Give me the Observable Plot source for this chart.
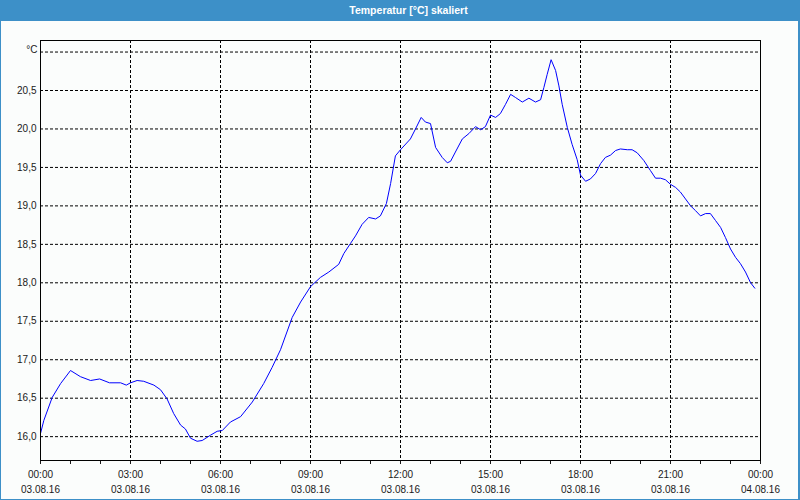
<!DOCTYPE html>
<html>
<head>
<meta charset="utf-8">
<script src="https://cdn.jsdelivr.net/npm/d3@7"></script>
<script src="https://cdn.jsdelivr.net/npm/@observablehq/plot@0.6"></script>
<style>
  html, body { margin: 0; padding: 0; background: #fff; }
  #wrap {
    position: relative; width: 800px; height: 500px; box-sizing: border-box;
    border: 1px solid #3d90c8; border-top: 0; border-right-width: 2px; background: #fbfdfc;
    font-family: "Liberation Sans", Arial, sans-serif; overflow: hidden;
  }
  #title {
    height: 21px; line-height: 21px; background: #3d90c8; color: #fff;
    font-weight: bold; font-size: 10.5px; text-align: center; padding-left: 18px;
  }
  #chart svg { display: block; }
</style>
</head>
<body>
<div id="wrap">
  <div id="title">Temperatur [°C] skaliert</div>
  <div id="chart"></div>
</div>
<script>
const titleText = "Temperatur [°C] skaliert";
const unitLabel = "°C";
// hours since 03.08.16 00:00
const hours = [0.0,0.11,0.39,0.67,1.00,1.33,1.67,1.97,2.30,2.67,2.86,3.00,3.22,3.44,3.78,4.00,4.22,4.44,4.67,4.83,5.00,5.22,5.39,5.67,5.89,6.06,6.33,6.67,7.06,7.44,7.72,8.00,8.39,8.67,9.00,9.33,9.61,9.94,10.11,10.33,10.50,10.72,10.94,11.17,11.33,11.53,11.67,11.83,12.00,12.33,12.50,12.69,12.83,13.00,13.17,13.39,13.56,13.67,13.83,14.06,14.28,14.50,14.67,14.83,15.00,15.17,15.33,15.50,15.67,15.83,16.06,16.28,16.50,16.67,16.78,16.89,17.02,17.17,17.28,17.39,17.56,17.72,17.89,18.00,18.17,18.33,18.50,18.67,18.83,19.00,19.17,19.33,19.56,19.72,19.89,20.11,20.33,20.50,20.67,20.83,21.00,21.17,21.33,21.50,21.67,21.83,22.00,22.17,22.33,22.50,22.67,22.83,23.00,23.17,23.33,23.50,23.67,23.81];
const temps = [16.04,16.21,16.51,16.69,16.86,16.78,16.73,16.75,16.70,16.70,16.67,16.70,16.73,16.72,16.67,16.61,16.49,16.30,16.15,16.10,15.98,15.94,15.95,16.02,16.07,16.08,16.19,16.26,16.45,16.69,16.90,17.13,17.55,17.75,17.95,18.07,18.14,18.24,18.38,18.51,18.61,18.76,18.85,18.83,18.87,19.03,19.29,19.65,19.73,19.87,20.00,20.15,20.09,20.07,19.76,19.63,19.56,19.58,19.70,19.87,19.94,20.03,19.99,20.03,20.18,20.15,20.20,20.32,20.45,20.41,20.35,20.40,20.35,20.38,20.54,20.71,20.90,20.76,20.56,20.32,20.02,19.80,19.60,19.40,19.32,19.35,19.42,19.55,19.63,19.66,19.72,19.74,19.73,19.73,19.69,19.59,19.46,19.36,19.36,19.34,19.28,19.24,19.18,19.09,19.00,18.94,18.87,18.90,18.90,18.81,18.72,18.59,18.44,18.33,18.25,18.14,18.00,17.93];
const yTicks = [16.0,16.5,17.0,17.5,18.0,18.5,19.0,19.5,20.0,20.5];
const yGrid = [16.0,16.5,17.0,17.5,18.0,18.5,19.0,19.5,20.0,20.5,21.0];
const xTicks = [0,3,6,9,12,15,18,21,24];
const xTimeLabels = ["00:00","03:00","06:00","09:00","12:00","15:00","18:00","21:00","00:00"];
const xDateLabels = ["03.08.16","03.08.16","03.08.16","03.08.16","03.08.16","03.08.16","03.08.16","03.08.16","04.08.16"];
const xMinorTicks = d3.range(0, 25, 1);

const data = hours.map((h, i) => ({h, t: temps[i]}));
const fmtComma = d => d.toFixed(1).replace(".", ",");

const chart = Plot.plot({
  width: 797, height: 478,
  marginLeft: 39, marginRight: 38, marginTop: 19, marginBottom: 39,
  style: {fontFamily: "Liberation Sans, Arial, sans-serif", fontSize: "10px", color: "#1a1a1a", background: "transparent"},
  x: {domain: [0, 24]},
  y: {domain: [15.69, 21.15]},
  marks: [
    Plot.gridY(yGrid, {stroke: "#000", strokeOpacity: 1, strokeDasharray: "3,2"}),
    Plot.gridX(xTicks.slice(1, -1), {stroke: "#000", strokeOpacity: 1, strokeDasharray: "3,2"}),
    Plot.axisY(yTicks, {tickSize: 0, tickPadding: 4, tickFormat: fmtComma, label: null}),
    Plot.axisX(xMinorTicks, {tickSize: 4, tickFormat: () => "", label: null}),
    Plot.axisX(xTicks, {tickSize: 4, tickPadding: 3, lineHeight: 1.5, label: null,
      tickFormat: (d) => { const i = xTicks.indexOf(d); return xTimeLabels[i] + "\n" + xDateLabels[i]; }}),
    Plot.line(data, {x: "h", y: "t", stroke: "#0000ff", strokeWidth: 1}),
    Plot.frame({stroke: "#000", strokeWidth: 1}),
    Plot.text([unitLabel], {frameAnchor: "top-left", dx: -3, dy: 5, textAnchor: "end", text: d => d})
  ]
});
document.getElementById("chart").appendChild(chart);
</script>
</body>
</html>
